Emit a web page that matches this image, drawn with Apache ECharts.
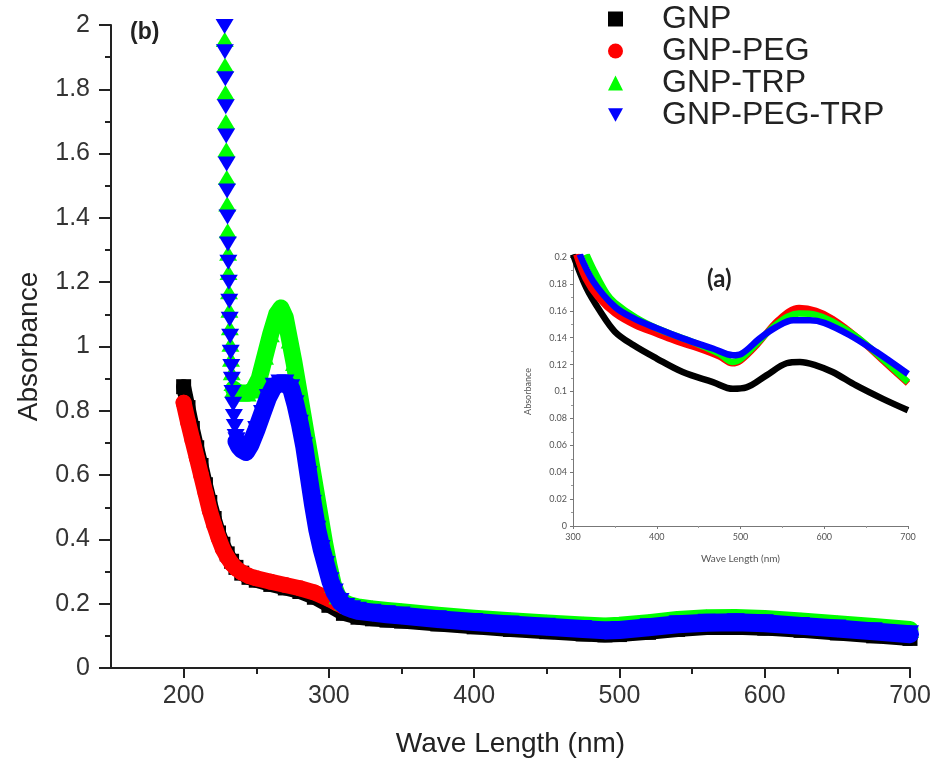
<!DOCTYPE html>
<html>
<head>
<meta charset="utf-8">
<script src="https://cdn.jsdelivr.net/npm/echarts@6/dist/echarts.min.js"></script>
<style>
  html, body { margin: 0; padding: 0; background: #ffffff; }
  #chart { width: 937px; height: 769px; }
</style>
</head>
<body>
<div id="chart"></div>
<script>
// UV-Vis absorbance spectra of gold nanoparticle samples

const seriesNames = ['GNP', 'GNP-PEG', 'GNP-TRP', 'GNP-PEG-TRP'];
const seriesColors = ['#000000', '#ff0000', '#00ff00', '#0000ff'];

// Full-range spectra [wavelength nm, absorbance]
const gnpMain = [
  [200,0.875],[203,0.81],[206,0.745],[209,0.685],[212,0.63],[215,0.57],[218,0.515],[221,0.465],
  [224,0.42],[227,0.385],[230,0.355],[233,0.332],[236,0.313],[240,0.295],[245,0.282],[250,0.273],
  [260,0.26],[270,0.249],[280,0.238],[290,0.22],[300,0.195],[310,0.17],[320,0.158],[330,0.153],
  [340,0.149],[350,0.146],[375,0.137],[400,0.128],[425,0.12],[450,0.113],[475,0.106],[490,0.103],
  [500,0.104],[520,0.111],[540,0.12],[560,0.126],[580,0.127],[600,0.124],[625,0.117],[650,0.109],
  [675,0.1],[700,0.092]
];
const pegMain = [
  [200,0.825],[203,0.765],[206,0.71],[209,0.655],[212,0.6],[215,0.545],[218,0.49],[221,0.445],
  [224,0.405],[227,0.37],[230,0.345],[233,0.325],[236,0.31],[240,0.297],[245,0.286],[250,0.279],
  [260,0.268],[270,0.258],[280,0.248],[290,0.235],[300,0.215],[305,0.203],[310,0.192],[320,0.18],
  [330,0.174],[340,0.169],[350,0.165],[375,0.154],[400,0.145],[425,0.137],[450,0.13],[475,0.123],
  [490,0.119],[500,0.12],[520,0.129],[540,0.138],[560,0.143],[580,0.144],[600,0.141],[625,0.133],
  [650,0.125],[675,0.116],[700,0.107]
];
// steep rise below 235 nm, drawn as separate markers
const trpRise = [
  [228.3,1.955],[228.5,1.875],[228.8,1.79],[229.1,1.7],[229.4,1.612],[229.7,1.526],[230.0,1.443],
  [230.3,1.36],[230.6,1.29],[230.9,1.23],[231.2,1.17],[231.5,1.113],[231.8,1.058],[232.2,1.007],
  [232.6,0.96],[233.1,0.918],[233.6,0.885]
];
const trpMain = [
  [234.3,0.868],[236,0.86],[240,0.855],[244,0.855],[248,0.865],[252,0.9],[256,0.97],[260,1.04],
  [264,1.1],[267,1.12],[270,1.09],[273,1.02],[276,0.95],[279,0.87],[282,0.79],[285,0.71],
  [288,0.63],[291,0.55],[294,0.47],[297,0.39],[300,0.32],[303,0.26],[306,0.225],[310,0.205],
  [314,0.197],[320,0.19],[330,0.184],[340,0.179],[350,0.175],[375,0.164],[400,0.155],[425,0.147],
  [450,0.14],[475,0.134],[490,0.131],[500,0.133],[520,0.141],[540,0.151],[560,0.156],[580,0.157],
  [600,0.154],[625,0.146],[650,0.138],[675,0.129],[700,0.12]
];
const pegTrpRise = [
  [228.2,1.995],[228.4,1.917],[228.7,1.833],[229.0,1.746],[229.3,1.655],[229.6,1.568],[229.9,1.484],
  [230.2,1.403],[230.5,1.319],[230.8,1.262],[231.1,1.2],[231.4,1.141],[231.7,1.085],[232.0,1.032],
  [232.4,0.982],[232.8,0.938],[233.2,0.898],[233.6,0.857],[234.1,0.82],[234.6,0.782],[235.2,0.751],
  [235.8,0.72]
];
const pegTrpMain = [
  [236.4,0.705],[238,0.69],[240,0.68],[243,0.672],[246,0.695],[250,0.74],[254,0.79],[258,0.84],
  [262,0.875],[266,0.885],[270,0.885],[274,0.87],[277,0.82],[280,0.76],[283,0.69],[286,0.6],
  [289,0.51],[292,0.43],[295,0.37],[298,0.32],[301,0.27],[304,0.235],[308,0.205],[312,0.19],
  [316,0.183],[320,0.178],[330,0.172],[340,0.167],[350,0.163],[375,0.152],[400,0.143],[425,0.135],
  [450,0.128],[475,0.121],[490,0.117],[500,0.118],[520,0.127],[540,0.136],[560,0.141],[580,0.142],
  [600,0.139],[625,0.131],[650,0.123],[675,0.114],[700,0.105]
];

// Visible-range spectra for the inset (a)
const gnpInset = [
  [300,0.202],[316,0.177],[332,0.16],[350,0.1445],[372,0.1345],[400,0.1245],[431,0.1145],[467,0.107],
  [491,0.102],[507,0.103],[531,0.112],[555,0.121],[571,0.122],[590,0.1195],[610,0.1145],[638,0.1045],
  [670,0.0945],[700,0.086]
];
const pegInset = [
  [304,0.202],[315,0.184],[330,0.17],[350,0.158],[375,0.149],[400,0.143],[425,0.137],[450,0.132],
  [475,0.126],[490,0.121],[500,0.123],[520,0.135],[545,0.153],[570,0.162],[590,0.16],[610,0.154],
  [640,0.14],[670,0.123],[700,0.106]
];
const trpInset = [
  [316,0.202],[325,0.19],[340,0.173],[350,0.166],[375,0.155],[400,0.147],[425,0.141],[450,0.135],
  [475,0.128],[490,0.122],[500,0.124],[520,0.136],[545,0.151],[570,0.158],[590,0.157],[610,0.152],
  [640,0.14],[670,0.124],[700,0.107]
];
const pegTrpInset = [
  [308,0.202],[324,0.182],[350,0.163],[372,0.1545],[400,0.147],[431,0.1395],[467,0.132],[491,0.127],
  [501,0.128],[523,0.1395],[543,0.148],[563,0.153],[583,0.153],[600,0.151],[630,0.142],[662,0.1295],
  [700,0.113]
];

// Tick positions for the main wavelength axis
const mainMajorTicks = [200, 300, 400, 500, 600, 700];
const mainMinorTicks = [250, 350, 450, 550, 650];

const FONT = "'Liberation Sans', Arial, sans-serif";
const INSET_FONT = "Lato, 'Open Sans', sans-serif";
const AXIS_DARK = '#222222';

const chart = echarts.init(document.getElementById('chart'), null, { renderer: 'canvas' });

// each series gets its own z so later spectra fully cover earlier ones
function mainLine(name, data, color, symbol, size, width, z, rotate) {
  return {
    name, type: 'line', data, xAxisIndex: 0, yAxisIndex: 0,
    symbol, symbolSize: size, symbolRotate: rotate || 0, showAllSymbol: true,
    itemStyle: { color }, lineStyle: { color, width, cap: 'round', join: 'round' },
    clip: true, z
  };
}
function riseScatter(name, data, color, z, rotate) {
  return {
    name, type: 'scatter', data, xAxisIndex: 0, yAxisIndex: 0,
    symbol: 'triangle', symbolSize: [18, 15], symbolRotate: rotate || 0,
    itemStyle: { color, opacity: 1 }, z
  };
}
function insetLine(name, data, color, z) {
  return {
    name, type: 'line', data, xAxisIndex: 2, yAxisIndex: 1,
    symbol: 'none', smooth: 0.35, clip: true,
    lineStyle: { color, width: 6.5 }, itemStyle: { color }, z
  };
}

const option = {
  animation: false,
  backgroundColor: '#ffffff',
  title: [
    { text: '(b)', left: 125, top: 16,
      textStyle: { fontFamily: FONT, fontSize: 23, fontWeight: 'bold', color: AXIS_DARK } },
    { text: '(a)', left: 702, top: 262,
      textStyle: { fontFamily: INSET_FONT, fontSize: 24, fontWeight: 'bold', color: AXIS_DARK } }
  ],
  legend: {
    orient: 'vertical', left: 608, top: 3, padding: 0,
    itemWidth: 15, itemHeight: 15, itemGap: 0,
    selectedMode: false,
    textStyle: { fontFamily: FONT, fontSize: 32, lineHeight: 28, color: AXIS_DARK, padding: [0, 0, 0, 34] },
    data: [
      { name: seriesNames[0], icon: 'rect' },
      { name: seriesNames[1], icon: 'circle' },
      { name: seriesNames[2], icon: 'triangle' },
      { name: seriesNames[3], icon: 'path://M0,0L10,0L5,9Z' }
    ]
  },
  grid: [
    { left: 111, right: 27, top: 25, bottom: 101, containLabel: false, outerBoundsMode: 'none' },
    { left: 573, right: 29, top: 257, bottom: 243, containLabel: false, outerBoundsMode: 'none' }
  ],
  xAxis: [
    {
      type: 'value', gridIndex: 0, min: 150, max: 700,
      name: 'Wave Length (nm)', nameLocation: 'middle', nameGap: 62, nameMoveOverlap: false,
      nameTextStyle: { fontFamily: FONT, fontSize: 28, color: AXIS_DARK },
      axisLine: { show: true, onZero: false, lineStyle: { color: AXIS_DARK, width: 2 } },
      axisTick: { show: true, customValues: mainMajorTicks, length: 10, lineStyle: { color: AXIS_DARK, width: 2 } },
      axisLabel: { show: true, customValues: mainMajorTicks, margin: 16, fontFamily: FONT, fontSize: 25, color: '#333333' },
      splitLine: { show: false }
    },
    {
      type: 'value', gridIndex: 0, min: 150, max: 700, position: 'bottom',
      axisLine: { show: false, onZero: false },
      axisTick: { show: true, customValues: mainMinorTicks, length: 6, lineStyle: { color: AXIS_DARK, width: 2 } },
      axisLabel: { show: false },
      splitLine: { show: false }
    },
    {
      type: 'value', gridIndex: 1, min: 300, max: 700, interval: 100,
      name: 'Wave Length (nm)', nameLocation: 'middle', nameGap: 28, nameMoveOverlap: false,
      nameTextStyle: { fontFamily: INSET_FONT, fontSize: 10, color: '#555555' },
      axisLine: { show: true, onZero: false, lineStyle: { color: '#777777', width: 1 } },
      axisTick: { show: true, length: 3, lineStyle: { color: '#777777' } },
      minorTick: { show: true, splitNumber: 2, length: 2, lineStyle: { color: '#999999' } },
      axisLabel: { fontFamily: INSET_FONT, fontSize: 9, color: '#555555', margin: 7 },
      splitLine: { show: false }
    }
  ],
  yAxis: [
    {
      type: 'value', gridIndex: 0, min: 0, max: 2, interval: 0.2,
      name: 'Absorbance', nameLocation: 'middle', nameGap: 68, nameRotate: 90, nameMoveOverlap: false,
      nameTextStyle: { fontFamily: FONT, fontSize: 28, color: AXIS_DARK },
      axisLine: { show: true, onZero: false, lineStyle: { color: AXIS_DARK, width: 2 } },
      axisTick: { show: true, length: 12, lineStyle: { color: AXIS_DARK, width: 2 } },
      minorTick: { show: true, splitNumber: 2, length: 6, lineStyle: { color: AXIS_DARK, width: 2 } },
      axisLabel: { margin: 21, fontFamily: FONT, fontSize: 25, color: '#333333' },
      splitLine: { show: false }
    },
    {
      type: 'value', gridIndex: 1, min: 0, max: 0.2, interval: 0.02,
      name: 'Absorbance', nameLocation: 'middle', nameGap: 40, nameRotate: 90, nameMoveOverlap: false,
      nameTextStyle: { fontFamily: INSET_FONT, fontSize: 9, color: '#555555' },
      axisLine: { show: true, onZero: false, lineStyle: { color: '#777777', width: 1 } },
      axisTick: { show: true, length: 3, lineStyle: { color: '#777777' } },
      minorTick: { show: true, splitNumber: 2, length: 2, lineStyle: { color: '#999999' } },
      axisLabel: { fontFamily: INSET_FONT, fontSize: 9, color: '#555555', margin: 6 },
      splitLine: { show: false }
    }
  ],
  series: [
    mainLine(seriesNames[0], gnpMain, seriesColors[0], 'rect', 15, 15, 2),
    mainLine(seriesNames[1], pegMain, seriesColors[1], 'circle', 16, 16, 3),
    riseScatter(seriesNames[2], trpRise, seriesColors[2], 4, 0),
    mainLine(seriesNames[2], trpMain, seriesColors[2], 'triangle', [18, 17], 17, 5),
    riseScatter(seriesNames[3], pegTrpRise, seriesColors[3], 6, 180),
    mainLine(seriesNames[3], pegTrpMain, seriesColors[3], 'triangle', [18, 18], 18, 7, 180),
    insetLine(seriesNames[0], gnpInset, seriesColors[0], 8),
    insetLine(seriesNames[1], pegInset, seriesColors[1], 9),
    insetLine(seriesNames[2], trpInset, seriesColors[2], 10),
    insetLine(seriesNames[3], pegTrpInset, seriesColors[3], 11)
  ]
};

chart.setOption(option);
</script>
</body>
</html>
